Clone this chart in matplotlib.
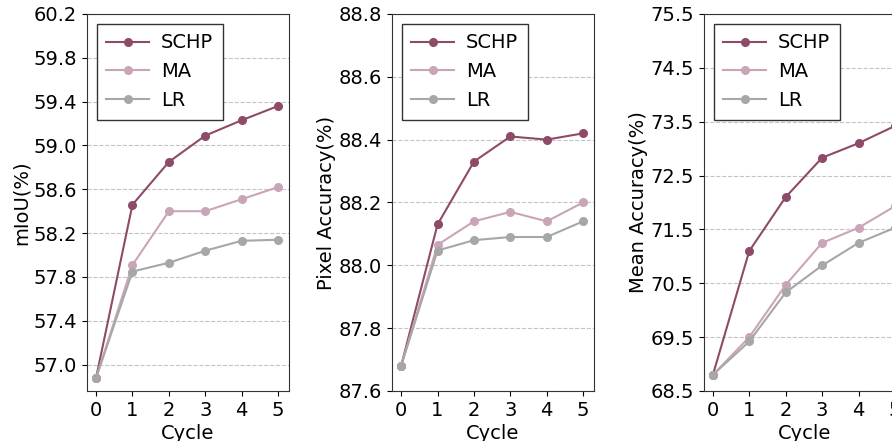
import numpy as np
import matplotlib
matplotlib.use("Agg")
import matplotlib.pyplot as plt

# Values
cycles = [0, 1, 2, 3, 4, 5]
methods = ["SCHP", "MA", "LR"]
colors = ["#8e4b69", "#c9a5b8", "#a7a7a7"]

miou = {
    "SCHP": [56.88, 58.46, 58.85, 59.09, 59.23, 59.36],
    "MA": [56.88, 57.91, 58.40, 58.40, 58.51, 58.62],
    "LR": [56.88, 57.85, 57.93, 58.04, 58.13, 58.14],
}
pixel_acc = {
    "SCHP": [87.68, 88.13, 88.33, 88.41, 88.40, 88.42],
    "MA": [87.68, 88.065, 88.14, 88.17, 88.14, 88.20],
    "LR": [87.68, 88.047, 88.08, 88.09, 88.09, 88.14],
}
mean_acc = {
    "SCHP": [68.8, 71.1, 72.1, 72.83, 73.1, 73.42],
    "MA": [68.8, 69.5, 70.47, 71.25, 71.53, 71.93],
    "LR": [68.8, 69.42, 70.33, 70.83, 71.25, 71.53],
}

panels = [
    (miou, "mIoU(%)", (56.76, 60.2), np.arange(57.0, 60.25, 0.4)),
    (pixel_acc, "Pixel Accuracy(%)", (87.6, 88.8), np.arange(87.6, 88.85, 0.2)),
    (mean_acc, "Mean Accuracy(%)", (68.5, 75.5), np.arange(68.5, 75.6, 1.0)),
]

plt.rcParams["font.size"] = 14

fig = plt.figure(figsize=(8.92, 4.41), dpi=100)
lefts = [0.0975, 0.4395, 0.789]

for left, (data, ylabel, ylim, yticks) in zip(lefts, panels):
    ax = fig.add_axes([left, 0.1134, 0.2265, 0.855])
    for m, c in zip(methods, colors):
        ax.plot(cycles, data[m], color=c, marker="o", markersize=5.5,
                linewidth=1.5, label=m)
    ax.set_yticks(yticks)
    ax.set_yticklabels(["{:.1f}".format(t) for t in yticks])
    ax.set_ylim(*ylim)
    ax.set_xticks(cycles)
    ax.set_xlim(-0.25, 5.3)
    ax.set_xlabel("Cycle", labelpad=3)
    ax.set_ylabel(ylabel, labelpad=2)
    ax.grid(axis="y", linestyle="--", color="#c4c4c4", linewidth=0.8)
    for s in ax.spines.values():
        s.set_color("#333333")
    leg = ax.legend(loc="upper left", fancybox=False, framealpha=1,
                    edgecolor="#333333", handlelength=2.2,
                    handletextpad=0.6, borderpad=0.5)
    leg.get_frame().set_linewidth(1.0)

fig.savefig("out.png", dpi=100)
